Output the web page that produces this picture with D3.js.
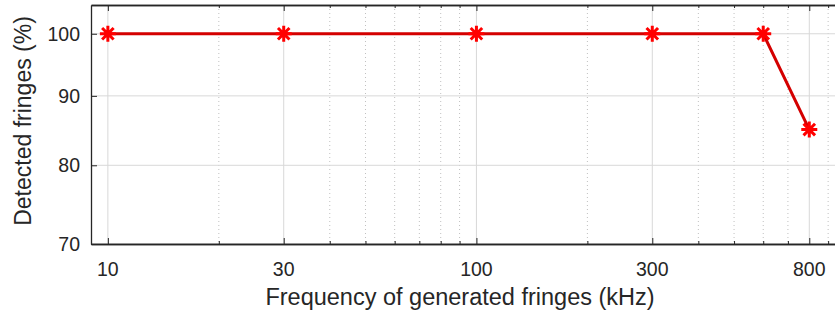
<!DOCTYPE html>
<html>
<head>
<meta charset="utf-8">
<script src="https://cdn.jsdelivr.net/npm/d3@7"></script>
<style>
  body { margin: 0; background: #fff; }
  svg { display: block; font-family: "Liberation Sans", Arial, sans-serif; }
</style>
</head>
<body>
<svg id="drawing_region"></svg>
<script>
// data
const freq_khz = [10, 30, 100, 300, 600, 800];
const detected = [100, 100, 100, 100, 100, 85];
const x_ticks = [10, 30, 100, 300, 800];
const x_minor = [20, 40, 50, 60, 70, 80, 90, 200, 400, 500, 600, 700, 900];
const y_ticks = [70, 80, 90, 100];

const config = {
    width: 835,
    height: 321,
    margin: {top: 5, right: -10, bottom: 77, left: 91}
};

const svg = d3.select('#drawing_region')
    .attr('width', config.width)
    .attr('height', config.height);

const inner_width = config.width - config.margin.left - config.margin.right;
const inner_height = config.height - config.margin.top - config.margin.bottom;

const chart = svg.append('g')
    .attr('transform', `translate(${config.margin.left}, ${config.margin.top})`);

const xscale = d3.scaleLog().domain([9, 1000]).range([0, inner_width]);
const yscale = d3.scaleLog().domain([70, 105]).range([inner_height, 0]);

// grid
chart.append('g').selectAll('line')
    .data(x_minor)
    .join('line')
    .attr('x1', d => xscale(d)).attr('x2', d => xscale(d))
    .attr('y1', 0).attr('y2', inner_height)
    .attr('stroke', '#c0c0c0')
    .attr('stroke-dasharray', '1,3');

chart.append('g').selectAll('line')
    .data(x_ticks)
    .join('line')
    .attr('x1', d => xscale(d)).attr('x2', d => xscale(d))
    .attr('y1', 0).attr('y2', inner_height)
    .attr('stroke', '#d8d8d8');

chart.append('g').selectAll('line')
    .data(y_ticks)
    .join('line')
    .attr('x1', 0).attr('x2', inner_width)
    .attr('y1', d => yscale(d)).attr('y2', d => yscale(d))
    .attr('stroke', '#d8d8d8');

// axes (ticks point inwards, box on)
const axis_color = '#262626';
const xaxis = chart.append('g')
    .attr('transform', `translate(0, ${inner_height})`)
    .call(d3.axisTop(xscale).tickValues(x_ticks).tickSize(6).tickSizeOuter(0).tickFormat(''));
const xaxis_minor = chart.append('g')
    .attr('transform', `translate(0, ${inner_height})`)
    .call(d3.axisTop(xscale).tickValues(x_minor).tickSize(3).tickSizeOuter(0).tickFormat(''));
const xaxis_top = chart.append('g')
    .call(d3.axisBottom(xscale).tickValues(x_ticks).tickSize(6).tickSizeOuter(0).tickFormat(''));
const xaxis_top_minor = chart.append('g')
    .call(d3.axisBottom(xscale).tickValues(x_minor).tickSize(3).tickSizeOuter(0).tickFormat(''));
const yaxis = chart.append('g')
    .call(d3.axisRight(yscale).tickValues(y_ticks).tickSize(6).tickSizeOuter(0).tickFormat(''));

[xaxis, xaxis_minor, xaxis_top, xaxis_top_minor, yaxis].forEach(g => {
    g.selectAll('path').attr('stroke', axis_color).attr('stroke-width', 1.3);
    g.selectAll('line').attr('stroke', axis_color);
});

// tick labels
chart.append('g').selectAll('text')
    .data(x_ticks)
    .join('text')
    .attr('x', d => xscale(d))
    .attr('y', inner_height + 32)
    .attr('text-anchor', 'middle')
    .attr('font-size', '19.5px')
    .attr('fill', axis_color)
    .text(d => d);

chart.append('g').selectAll('text')
    .data(y_ticks)
    .join('text')
    .attr('x', -11)
    .attr('y', d => yscale(d))
    .attr('dy', '0.36em')
    .attr('text-anchor', 'end')
    .attr('font-size', '19.5px')
    .attr('fill', axis_color)
    .text(d => d);

// axis titles
svg.append('text')
    .attr('x', 460)
    .attr('y', 305)
    .attr('text-anchor', 'middle')
    .attr('font-size', '23.5px')
    .attr('fill', axis_color)
    .text('Frequency of generated fringes (kHz)');

svg.append('text')
    .attr('transform', 'translate(31, 121) rotate(-90)')
    .attr('text-anchor', 'middle')
    .attr('font-size', '23px')
    .attr('fill', axis_color)
    .text('Detected fringes (%)');

// data line
const points = freq_khz.map((f, i) => ({f: f, v: detected[i]}));
const line = d3.line()
    .x(d => xscale(d.f))
    .y(d => yscale(d.v));

chart.append('path')
    .datum(points)
    .attr('d', line)
    .attr('fill', 'none')
    .attr('stroke', '#d40000')
    .attr('stroke-width', 3);

// asterisk markers
const r = 8;
const star = `M0,${-r}L0,${r}M${-r},0L${r},0` +
    `M${-r*0.72},${-r*0.72}L${r*0.72},${r*0.72}M${-r*0.72},${r*0.72}L${r*0.72},${-r*0.72}`;
chart.append('g').selectAll('path')
    .data(points)
    .join('path')
    .attr('transform', d => `translate(${xscale(d.f)}, ${yscale(d.v)})`)
    .attr('d', star)
    .attr('stroke', '#ff0000')
    .attr('stroke-width', 3);
</script>
</body>
</html>
